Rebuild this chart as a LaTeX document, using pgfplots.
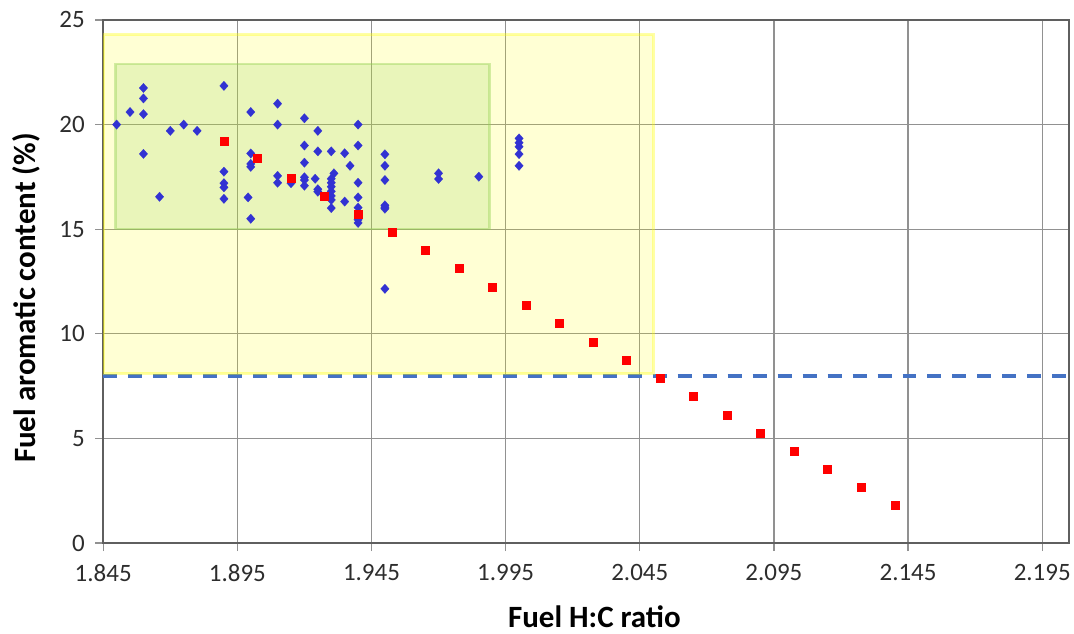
\documentclass[border=0pt]{standalone}
\usepackage{fontspec}
\setmainfont{Carlito}
\usepackage{pgfplots}
\usepackage{pgfplotstable}
\pgfplotsset{compat=1.18}
\definecolor{ptblue}{RGB}{50,50,210}
\definecolor{ptred}{RGB}{255,0,0}
\definecolor{gridgray}{RGB}{145,145,145}
\definecolor{framegray}{RGB}{95,95,95}
\definecolor{labelgray}{RGB}{45,45,45}
\definecolor{dashblue}{RGB}{68,114,196}
\definecolor{rectyellow}{RGB}{255,255,0}
\definecolor{rectgreen}{RGB}{146,208,80}

\pgfplotstableread{
x y
1.850 20.00
1.855 20.60
1.860 21.75
1.860 21.25
1.860 20.50
1.860 18.60
1.866 16.55
1.870 19.70
1.875 20.00
1.880 19.70
1.890 21.85
1.890 17.75
1.890 17.20
1.890 17.00
1.890 16.45
1.900 20.60
1.900 18.62
1.900 18.12
1.900 17.98
1.899 16.52
1.900 15.50
1.910 21.00
1.910 20.00
1.910 17.55
1.910 17.22
1.915 17.20
1.920 20.30
1.925 19.70
1.940 20.00
1.920 19.00
1.925 18.72
1.930 18.72
1.935 18.63
1.937 18.03
1.940 19.00
1.920 18.18
1.920 17.48
1.920 17.35
1.920 17.08
1.924 17.41
1.925 16.91
1.925 16.79
1.930 17.41
1.930 17.22
1.930 17.03
1.930 16.81
1.930 16.59
1.930 16.40
1.931 17.67
1.930 16.01
1.935 16.32
1.940 17.22
1.940 16.52
1.940 16.03
1.940 15.45
1.940 15.30
1.950 18.58
1.950 18.03
1.950 17.35
1.950 16.14
1.950 16.05
1.950 15.98
1.950 12.15
1.970 17.67
1.970 17.40
1.985 17.51
2.000 19.34
2.000 19.13
2.000 18.94
2.000 18.59
2.000 18.03
}\bluedata

\pgfplotstableread{
x y
1.8900 19.22
1.9025 18.40
1.9150 17.46
1.9275 16.59
1.9400 15.73
1.9525 14.88
1.9650 14.00
1.9775 13.12
1.9900 12.23
2.0025 11.35
2.0150 10.52
2.0275 9.62
2.0400 8.74
2.0525 7.86
2.0650 7.02
2.0775 6.13
2.0900 5.27
2.1025 4.40
2.1150 3.54
2.1275 2.67
2.1400 1.81
}\reddata

\begin{document}
\begin{tikzpicture}
\begin{axis}[
  scale only axis,
  width=966.7bp, height=523.5bp,
  xmin=1.845, xmax=2.205, ymin=0, ymax=25,
  xtick={1.845,1.895,1.945,1.995,2.045,2.095,2.145,2.195},
  xticklabels={1.845,1.895,1.945,1.995,2.045,2.095,2.145,2.195},
  ytick={0,5,10,15,20,25},
  grid=major,
  major grid style={color=gridgray, line width=1.3bp},
  axis line style={color=framegray, line width=1.5bp},
  tick style={color=gridgray, line width=1.3bp},
  tick align=outside, major tick length=8bp,
  xtick pos=bottom, ytick pos=left,
  /pgf/number format/assume math mode=true,
  ticklabel style={font=\fontsize{25bp}{30bp}\selectfont, text=labelgray},
  xticklabel style={yshift=-9.5bp},
  yticklabel style={xshift=-7bp},
  xlabel={Fuel H:C ratio},
  ylabel={Fuel aromatic content (\%)},
  every axis x label/.style={at={(axis description cs:0.5086,-0.1614)}, anchor=base, font=\fontsize{31bp}{36bp}\selectfont\bfseries, text=black},
  every axis y label/.style={at={(axis description cs:-0.0699,0.790)}, anchor=base east, rotate=90, font=\fontsize{31bp}{36bp}\selectfont\bfseries, text=black},
]
\addplot[only marks, mark=diamond*, mark size=4.7bp, mark options={xscale=1.2, fill=ptblue, draw=ptblue, line width=0.2bp}] table[x=x,y=y] {\bluedata};
\addplot[only marks, mark=square*, mark size=4bp, mark options={fill=ptred, draw=ptred, line width=0.2bp}] table[x=x,y=y] {\reddata};
\addplot[dashblue, line width=4bp, dash pattern=on 14bp off 11bp] coordinates {(1.845,8) (2.205,8)};
\addplot[draw=rectyellow, draw opacity=0.35, line width=3bp, fill=rectyellow, fill opacity=0.17] coordinates {(1.845,8.1) (2.050,8.1) (2.050,24.3) (1.845,24.3) (1.845,8.1)};
\addplot[draw=rectgreen, draw opacity=0.4, line width=2.5bp, fill=rectgreen, fill opacity=0.2] coordinates {(1.8495,15) (1.989,15) (1.989,22.9) (1.8495,22.9) (1.8495,15)};
\end{axis}
\path ([shift={(-103.3bp,-90.5bp)}]current axis.south west) rectangle ([shift={(4bp,20bp)}]current axis.north east);
\end{tikzpicture}
\end{document}
